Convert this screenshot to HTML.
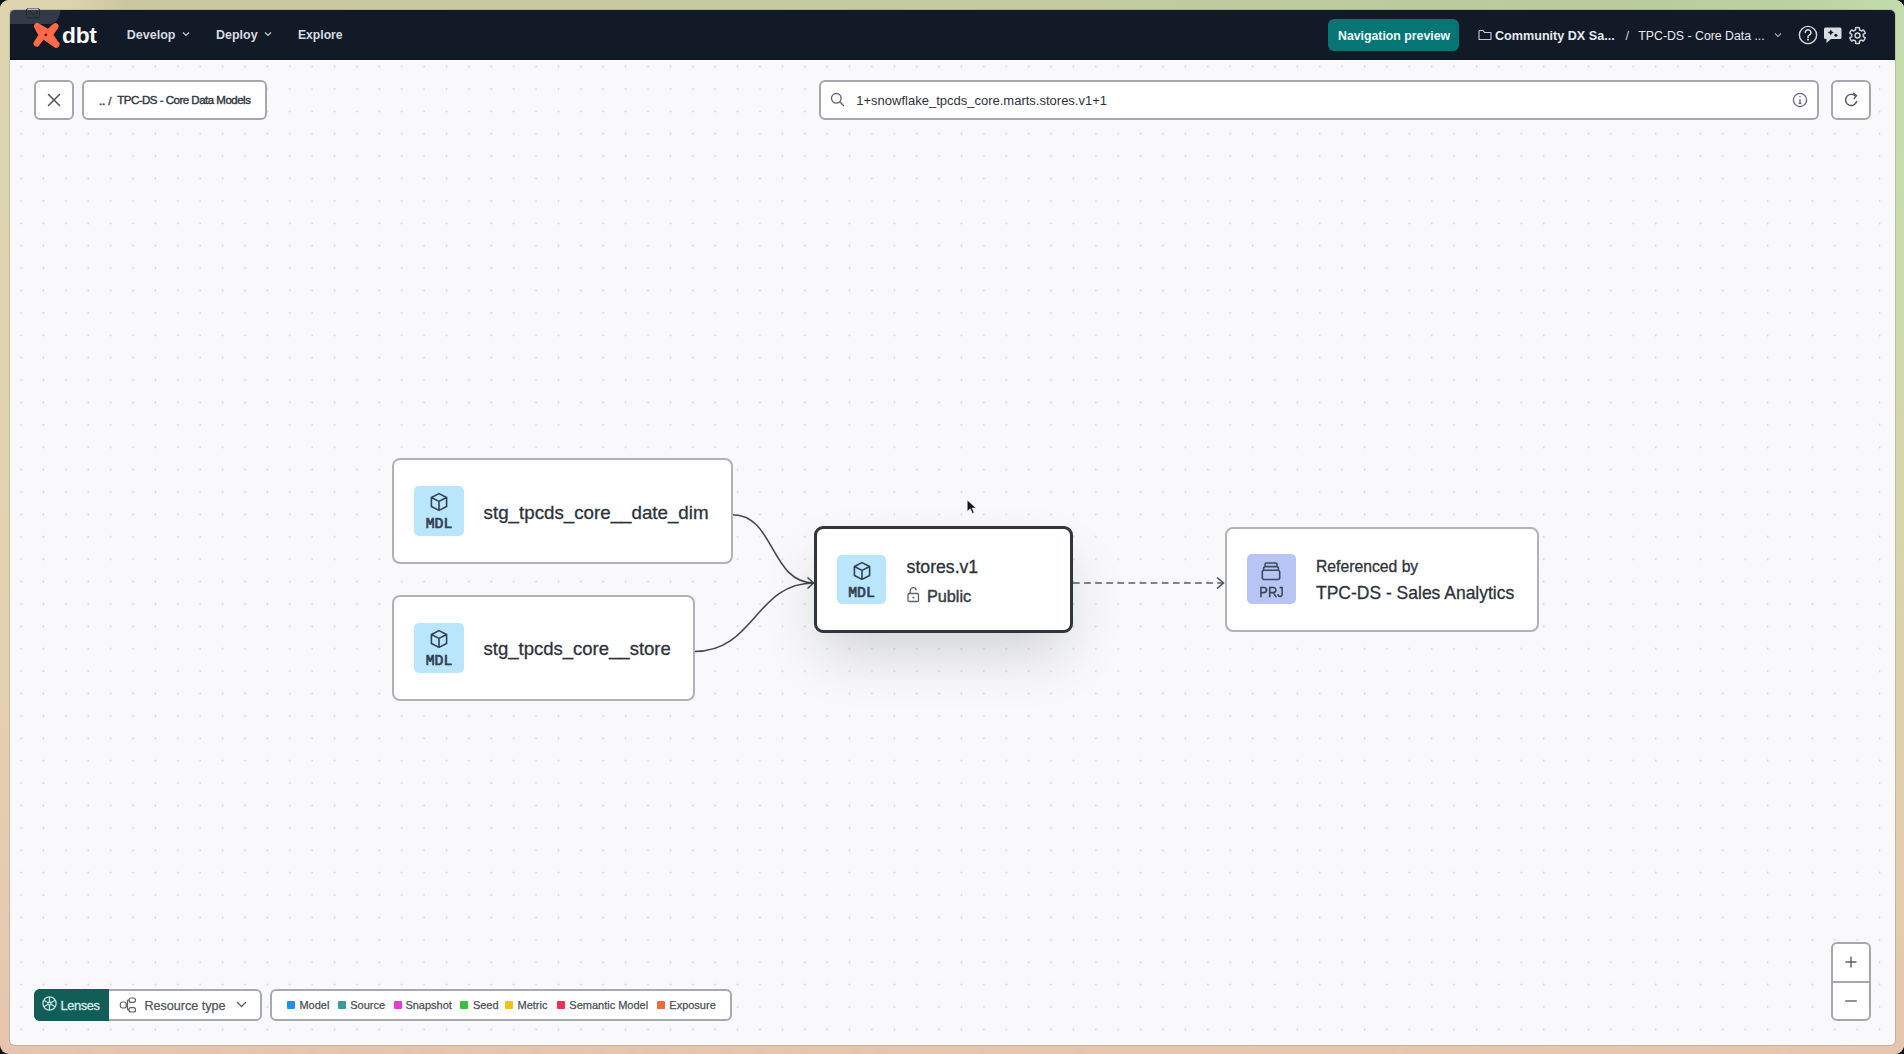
<!DOCTYPE html>
<html><head><meta charset="utf-8">
<style>
*{box-sizing:border-box;margin:0;padding:0}
html,body{width:1904px;height:1054px;overflow:hidden;background:#0e1118}
body{font-family:"Liberation Sans",sans-serif;position:relative}
#frame{position:absolute;left:0;top:0;width:1904px;height:1054px;border-radius:9px;overflow:hidden;
background:linear-gradient(180deg,#ddd5b0 0%,#dbd4ae 16%,#e3d3b0 47%,#e6cbb0 85%,#e6c4ae 100%)}
#frame .r{position:absolute;left:0;top:0;width:100%;height:100%;
background:linear-gradient(180deg,#c4dbae 0%,#c8dcae 16%,#d6d6aa 47%,#e3cbae 85%,#e6c4ae 100%);
-webkit-mask-image:linear-gradient(90deg,transparent 0%,rgba(0,0,0,.5) 50%,#000 100%);mask-image:linear-gradient(90deg,transparent 0%,rgba(0,0,0,.5) 50%,#000 100%)}
#frame .t{position:absolute;left:0;top:0;width:100%;height:10px;
background:linear-gradient(90deg,#ddd5b0 0px,#dcd4af 70px,#cbc8a0 125px,#c3ca9f 900px,#b9cc9c 1650px,#bcd1a0 1800px,#c4dbae 1904px)}
#app{position:absolute;left:10px;top:10px;width:1885px;height:1035px;border-radius:5px;overflow:hidden;background:#f9f9fb;box-shadow:0 0 0 1px rgba(110,105,80,.22)}
#nav{position:absolute;left:0;top:0;width:1885px;height:50px;background:#131a27;border-bottom:1px solid #0e1320}
#navline{position:absolute;left:0;top:50px;width:1885px;height:1px;background:#fdfdfe}
#canvas{position:absolute;left:0;top:51px;width:1885px;height:984px;
background-color:#f9f9fb;
background-image:radial-gradient(circle at center,#d3d6da 0.8px,transparent 1.15px);
background-size:22.4px 22.4px;background-position:22.3px -5.6px}
.a{position:absolute;white-space:nowrap;line-height:1}
.navt{position:absolute;white-space:nowrap;line-height:1;color:#d8dbe0;font-weight:700;font-size:12.5px;top:28.5px}
.btn{position:absolute;background:#fff;border:2px solid #a4a8ae;border-radius:6px}
.node{position:absolute;background:#fff;border:2px solid #afb3b9;border-radius:8px}
.ico{position:absolute;width:50px;height:50px;border-radius:5px;background:#bae6fc}
.ico svg{position:absolute;left:15px;top:6px}
.mdl{position:absolute;left:0;width:50px;text-align:center;font-family:"Liberation Mono",monospace;font-weight:400;-webkit-text-stroke:0.7px #324050;font-size:14.8px;color:#324050;top:32px;line-height:12px;letter-spacing:-0.1px}
.ttl{position:absolute;white-space:nowrap;line-height:1;color:#2d333b;-webkit-text-stroke:0.3px #2d333b}
.leg{position:absolute;top:999.7px;font-size:11px;color:#4b5057;white-space:nowrap;line-height:1;-webkit-text-stroke:0.25px #4b5057}
.sq{position:absolute;top:1001px;width:8px;height:8px;border-radius:1px}
</style></head><body>
<div id="frame"><div class="r"></div><div class="t"></div></div>
<div id="app">
  <div id="nav"></div><div id="navline"></div>
  <div id="canvas"></div>
</div>

<!-- recording pill -->
<div class="a" style="left:10px;top:10px;width:50px;height:14px;background:rgba(90,96,110,.45);border-radius:0 0 12px 0"></div>
<svg class="a" style="left:25px;top:7px" width="18" height="14" viewBox="0 0 18 14"><rect x="1.5" y="1.5" width="13" height="9.5" rx="1.5" fill="none" stroke="#242934" stroke-width="1"/><path d="M2.5 1.5h11" stroke="#7d828c" stroke-width="1"/><path d="M5 4l4 4.5M12 4v3M10.5 10.5h4" stroke="#1d222c" stroke-width="1"/></svg>

<!-- logo -->
<svg class="a" style="left:30px;top:19px" width="33" height="32" viewBox="0 0 33 32">
 <path transform="translate(15.8 16) scale(0.9) translate(-15.8 -16)" d="M7.6 16.1Q5 12.2 3.6 8.8A3.7 3.7 0 0 1 8.6 3.4Q13.2 6 18.2 9.1Q21.8 5.6 24.6 3.3A3.7 3.7 0 0 1 29.7 8.2Q26.6 12 24.3 15.8Q27 19.8 29.6 23.4A3.7 3.7 0 0 1 24.8 29.4Q19 25.2 13.4 21.3Q10.2 25 7.8 28.4A3.7 3.7 0 0 1 2.6 23.4Q5.2 19.8 7.6 16.1Z" fill="#fe6a47"/>
 <circle cx="15.8" cy="15.9" r="1.4" fill="#5a1a10"/>
</svg>
<div class="a" style="left:62px;top:24px;font-size:22.8px;font-weight:700;color:#fafbfc;letter-spacing:-0.3px">dbt</div>

<div class="navt" style="left:126.8px">Develop</div>
<svg class="a" style="left:182px;top:31px" width="8" height="6" viewBox="0 0 8 6"><path d="M1 1.5l3 3 3-3" fill="none" stroke="#c9ccd2" stroke-width="1.2"/></svg>
<div class="navt" style="left:216px">Deploy</div>
<svg class="a" style="left:264px;top:31px" width="8" height="6" viewBox="0 0 8 6"><path d="M1 1.5l3 3 3-3" fill="none" stroke="#c9ccd2" stroke-width="1.2"/></svg>
<div class="navt" style="left:297.9px;font-size:12.2px;top:28.7px">Explore</div>

<div class="a" style="left:1328px;top:19px;width:131px;height:32px;background:#087575;border-radius:6px"></div>
<div class="navt" style="left:1338px;top:29.6px;font-size:12.3px;color:#f2f7f7">Navigation preview</div>
<svg class="a" style="left:1478px;top:29px" width="14" height="12" viewBox="0 0 14 12"><path d="M1 2.2V10.5h12V3.5H6.5L5 1.5H1.5z" fill="none" stroke="#c9ccd2" stroke-width="1.1" stroke-linejoin="round"/></svg>
<div class="navt" style="left:1495px;top:29.6px;font-size:12.6px;color:#e8eaee">Community DX Sa...</div>
<div class="navt" style="left:1625.5px;top:29.6px;font-size:12.6px;font-weight:400;color:#d7dade">/</div>
<div class="navt" style="left:1638.3px;top:29.6px;font-size:12.3px;font-weight:400;color:#e8eaee">TPC-DS - Core Data ...</div>
<svg class="a" style="left:1774px;top:32px" width="8" height="6" viewBox="0 0 8 6"><path d="M1 1.5l3 3 3-3" fill="none" stroke="#a7abb2" stroke-width="1.1"/></svg>
<!-- help -->
<svg class="a" style="left:1798px;top:25px" width="20" height="20" viewBox="0 0 20 20"><circle cx="10" cy="10" r="8.6" fill="none" stroke="#d5d8dd" stroke-width="1.4"/><path d="M7.3 7.6a2.8 2.8 0 1 1 3.9 2.5c-.8.4-1.2 1-1.2 1.8v.8" fill="none" stroke="#d5d8dd" stroke-width="1.5" stroke-linecap="round"/><circle cx="10" cy="14.8" r="1" fill="#d5d8dd"/></svg>
<!-- chat sparkle -->
<svg class="a" style="left:1823px;top:26px" width="20" height="19" viewBox="0 0 20 19"><path d="M2.5 1.5h14.5a1.5 1.5 0 0 1 1.5 1.5v8.5a1.5 1.5 0 0 1-1.5 1.5H8l-4.5 4v-4H2.5A1.5 1.5 0 0 1 1 11.5V3a1.5 1.5 0 0 1 1.5-1.5z" fill="#d9dce1"/><path d="M7.8 3.6Q8.4 6 10.8 6.6Q8.4 7.2 7.8 9.6Q7.2 7.2 4.8 6.6Q7.2 6 7.8 3.6Z" fill="#121926"/><circle cx="12.9" cy="9.2" r="1.5" fill="#121926"/></svg>
<!-- gear -->
<svg class="a" style="left:1848px;top:26px" width="19" height="19" viewBox="0 0 24 24"><path d="M9.47 5.05L9.71 2.06A10.2 10.2 0 0 1 14.29 2.06L14.53 5.05A7.4 7.4 0 0 1 16.76 6.33L19.46 5.04A10.2 10.2 0 0 1 21.75 9.02L19.29 10.72A7.4 7.4 0 0 1 19.29 13.28L21.75 14.98A10.2 10.2 0 0 1 19.460 18.96L16.76 17.67A7.4 7.4 0 0 1 14.53 18.95L14.29 21.94A10.2 10.2 0 0 1 9.71 21.94L9.47 18.95A7.4 7.4 0 0 1 7.24 17.67L4.54 18.96A10.2 10.2 0 0 1 2.25 14.98L4.71 13.28A7.4 7.4 0 0 1 4.71 10.72L2.25 9.02A10.2 10.2 0 0 1 4.54 5.04L7.24 6.33A7.4 7.4 0 0 1 9.47 5.05Z" fill="none" stroke="#cfd2d7" stroke-width="1.9" stroke-linejoin="round"/><circle cx="12" cy="12" r="3.1" fill="none" stroke="#cfd2d7" stroke-width="1.9"/></svg>

<!-- toolbar -->
<div class="btn" style="left:33.5px;top:79.5px;width:40.5px;height:40.5px"></div>
<svg class="a" style="left:47px;top:93px" width="14" height="14" viewBox="0 0 14 14"><path d="M1.5 1.5l11 11M12.5 1.5l-11 11" stroke="#4d5259" stroke-width="1.5" stroke-linecap="round"/></svg>
<div class="btn" style="left:82px;top:79.5px;width:185px;height:40.5px"></div>
<div class="a" style="left:98.9px;top:95px;font-size:11.6px;font-weight:400;color:#30363e;-webkit-text-stroke:0.5px #30363e">..</div>
<div class="a" style="left:108.2px;top:95.2px;font-size:11.6px;font-weight:400;color:#343a42;-webkit-text-stroke:0.3px #343a42">/</div>
<div class="a" style="left:117.2px;top:95px;font-size:11.5px;font-weight:400;letter-spacing:-0.5px;color:#30363e;-webkit-text-stroke:0.4px #30363e">TPC-DS - Core Data Models</div>

<div class="btn" style="left:819px;top:79.5px;width:1000px;height:40.5px"></div>
<svg class="a" style="left:830px;top:92px" width="15" height="15" viewBox="0 0 15 15"><circle cx="6.3" cy="6.3" r="4.8" fill="none" stroke="#62676e" stroke-width="1.4"/><path d="M9.8 9.8l3.6 3.6" stroke="#62676e" stroke-width="1.4" stroke-linecap="round"/></svg>
<div class="a" style="left:856.3px;top:93.6px;font-size:13px;color:#2d333b">1+snowflake_tpcds_core.marts.stores.v1+1</div>
<svg class="a" style="left:1792px;top:92px" width="16" height="16" viewBox="0 0 16 16"><circle cx="8" cy="8" r="6.6" fill="none" stroke="#5f646b" stroke-width="1.2"/><path d="M8 7v4.2M6.6 11.4h2.8" stroke="#5f646b" stroke-width="1.2"/><circle cx="8" cy="4.8" r=".8" fill="#5f646b"/></svg>
<div class="btn" style="left:1831px;top:79.5px;width:40px;height:40.5px"></div>
<svg class="a" style="left:1843px;top:91px" width="17" height="18" viewBox="0 0 17 18"><path d="M13.6 10.5A5.6 5.6 0 1 1 12.2 5" fill="none" stroke="#50555c" stroke-width="1.4" stroke-linecap="round"/><path d="M10.2 2.2l3.4 2.4-2.4 3" fill="none" stroke="#50555c" stroke-width="1.4" stroke-linejoin="round" stroke-linecap="round"/></svg>

<!-- edges -->
<svg class="a" style="left:0;top:0" width="1904" height="1054" viewBox="0 0 1904 1054">
 <g fill="none" stroke="#444950" stroke-width="1.6">
  <path d="M732.5 514.8C775 514.8 770 583 814 583"/>
  <path d="M694.5 651.5C755 651.5 755 583 814 583"/>
  <path d="M807.5 577.5l6 5.5-6 5.5"/>
 </g>
 <path d="M1073 583H1222" fill="none" stroke="#5a5f67" stroke-width="1.6" stroke-dasharray="6.7 4.4"/>
 <path d="M1217 577.5l6.5 5.5-6.5 5.5" fill="none" stroke="#4a4f57" stroke-width="1.6"/>
</svg>

<!-- node 1 -->
<div class="node" style="left:392px;top:458.3px;width:341px;height:105.5px"></div>
<div class="ico" style="left:414px;top:486px"><svg width="20" height="20" viewBox="0 0 20 20"><path d="M10 1.6l7.6 3.9v9L10 18.4 2.4 14.5v-9z M2.4 5.5L10 9.4l7.6-3.9 M10 9.4v9" fill="none" stroke="#324050" stroke-width="1.6" stroke-linejoin="round"/></svg><div class="mdl">MDL</div></div>
<div class="ttl" style="left:483.6px;top:504.1px;font-size:18.74px">stg_tpcds_core__date_dim</div>

<!-- node 2 -->
<div class="node" style="left:392px;top:595.3px;width:303.4px;height:105.5px"></div>
<div class="ico" style="left:414px;top:623px"><svg width="20" height="20" viewBox="0 0 20 20"><path d="M10 1.6l7.6 3.9v9L10 18.4 2.4 14.5v-9z M2.4 5.5L10 9.4l7.6-3.9 M10 9.4v9" fill="none" stroke="#324050" stroke-width="1.6" stroke-linejoin="round"/></svg><div class="mdl">MDL</div></div>
<div class="ttl" style="left:483.6px;top:640px;font-size:18.5px">stg_tpcds_core__store</div>

<!-- node 3 center -->
<div class="node" style="left:814px;top:526px;width:259.3px;height:107px;border:3px solid #30353e;border-radius:9px;box-shadow:0 28px 56px -8px rgba(20,25,35,.17)"></div>
<div class="ico" style="left:837px;top:555px;width:49px;height:49px"><svg width="20" height="20" viewBox="0 0 20 20"><path d="M10 1.6l7.6 3.9v9L10 18.4 2.4 14.5v-9z M2.4 5.5L10 9.4l7.6-3.9 M10 9.4v9" fill="none" stroke="#324050" stroke-width="1.6" stroke-linejoin="round"/></svg><div class="mdl" style="width:49px">MDL</div></div>
<div class="ttl" style="left:906.6px;top:559px;font-size:17.65px">stores.v1</div>
<svg class="a" style="left:906px;top:586px" width="14" height="17" viewBox="0 0 14 17"><rect x="2" y="7.5" width="10.5" height="8" rx="1.2" fill="none" stroke="#5d626a" stroke-width="1.3"/><path d="M4.2 7.5V5a3 3 0 0 1 6-0.6" fill="none" stroke="#5d626a" stroke-width="1.3"/><rect x="6.4" y="10.8" width="2" height="1.6" fill="#5d626a"/></svg>
<div class="ttl" style="left:926.9px;top:588px;font-size:16.3px;color:#393f47;-webkit-text-stroke:0.45px #393f47">Public</div>

<!-- node 4 -->
<div class="node" style="left:1224.5px;top:527px;width:314.4px;height:105.2px"></div>
<div class="ico" style="left:1246.5px;top:554.3px;width:49px;height:50px;background:#b6c5f6"><svg width="20" height="20" viewBox="0 0 20 20" style="left:14.5px;top:6.5px"><rect x="1.3" y="9.2" width="17.4" height="9.3" rx="2" fill="none" stroke="#3d4b5d" stroke-width="1.6"/><path d="M2.6 9.2V7.4a1.8 1.8 0 0 1 1.8-1.8h11.2a1.8 1.8 0 0 1 1.8 1.8v1.8 M4 5.6V3.6a1.6 1.6 0 0 1 1.6-1.6h8.8A1.6 1.6 0 0 1 16 3.6v2" fill="none" stroke="#3d4b5d" stroke-width="1.6"/></svg><div class="a" style="left:0;width:49px;text-align:center;top:30.2px;font-size:15px;color:#36444f;-webkit-text-stroke:0.4px #36444f;transform:scaleX(.86)">PRJ</div></div>
<div class="ttl" style="left:1316px;top:558.8px;font-size:15.73px">Referenced by</div>
<div class="ttl" style="left:1316px;top:584.8px;font-size:17.49px">TPC-DS - Sales Analytics</div>

<!-- cursor -->
<svg class="a" style="left:966px;top:499px" width="12" height="17" viewBox="0 0 12 17"><path d="M1.2 1v11.5l3-2.8 2.2 4.8 1.8-.8-2.1-4.6h4z" fill="#11151c" stroke="#fff" stroke-width=".6"/></svg>

<!-- bottom left -->
<div class="a" style="left:34px;top:988.7px;width:228.2px;height:32.5px;border:2px solid #a6aab0;border-radius:6px;background:#fff"></div>
<div class="a" style="left:34px;top:988.7px;width:74.7px;height:32.5px;background:#125d58;border-radius:6px 0 0 6px"></div>
<svg class="a" style="left:41.5px;top:996.3px" width="15" height="15" viewBox="0 0 15 15"><g fill="none" stroke="#bfe3e0" stroke-width="1.3"><circle cx="7.5" cy="7.5" r="6.6"/><circle cx="7.5" cy="7.5" r="1.5"/><path d="M7.5 1v4.9M7.5 9.1V14M1.9 4.3l4.2 2.4M8.9 8.3l4.2 2.4M1.9 10.7l4.2-2.4M8.9 6.7l4.2-2.4"/></g></svg>
<div class="a" style="left:60.5px;top:1000.2px;font-size:12.9px;letter-spacing:-0.4px;color:#d2ecea;font-weight:400;-webkit-text-stroke:0.3px #d2ecea">Lenses</div>
<svg class="a" style="left:119px;top:996px" width="18" height="18" viewBox="0 0 18 18"><g fill="none" stroke="#5a5f66" stroke-width="1.2"><rect x="1.3" y="6" width="6" height="6" rx="2.2"/><rect x="10" y="2" width="6.5" height="4.3" rx="2"/><rect x="10" y="11.7" width="6.5" height="4.3" rx="2"/><path d="M7.3 9h1.2M8.5 4.2v9.6M8.5 4.2H10M8.5 13.8H10"/></g></svg>
<div class="a" style="left:144.4px;top:999.6px;font-size:12.6px;color:#50555c;-webkit-text-stroke:0.25px #50555c">Resource type</div>
<svg class="a" style="left:236px;top:1001px" width="11" height="7" viewBox="0 0 11 7"><path d="M1 1l4.5 4.5L10 1" fill="none" stroke="#5a5f66" stroke-width="1.3"/></svg>

<div class="a" style="left:270px;top:988.7px;width:462px;height:32.5px;border:2px solid #a6aab0;border-radius:6px;background:#fff"></div>
<div class="sq" style="left:287.2px;background:#1f93dd"></div><div class="leg" style="left:299.4px">Model</div>
<div class="sq" style="left:338.3px;background:#3a9b98"></div><div class="leg" style="left:350.2px">Source</div>
<div class="sq" style="left:393.5px;background:#e43ccd"></div><div class="leg" style="left:405.4px">Snapshot</div>
<div class="sq" style="left:460.4px;background:#33c23a"></div><div class="leg" style="left:472.9px">Seed</div>
<div class="sq" style="left:505.4px;background:#f1c21b"></div><div class="leg" style="left:517.5px">Metric</div>
<div class="sq" style="left:557px;background:#e83355"></div><div class="leg" style="left:569.3px">Semantic Model</div>
<div class="sq" style="left:657px;background:#f06a3e"></div><div class="leg" style="left:669.3px">Exposure</div>

<!-- zoom control -->
<div class="a" style="left:1831px;top:942px;width:40.2px;height:78.8px;border:2px solid #a4a8ae;border-radius:6px;background:#fff"></div>
<div class="a" style="left:1831px;top:980.5px;width:40px;height:2px;background:#a4a8ae"></div>
<svg class="a" style="left:1845px;top:956px" width="12" height="12" viewBox="0 0 12 12"><path d="M6 0.5v11M0.5 6h11" stroke="#5a5f66" stroke-width="1.4"/></svg>
<div class="a" style="left:1845px;top:999.6px;width:12.3px;height:2.6px;background:#8e9298;border-radius:1px"></div>
</body></html>
